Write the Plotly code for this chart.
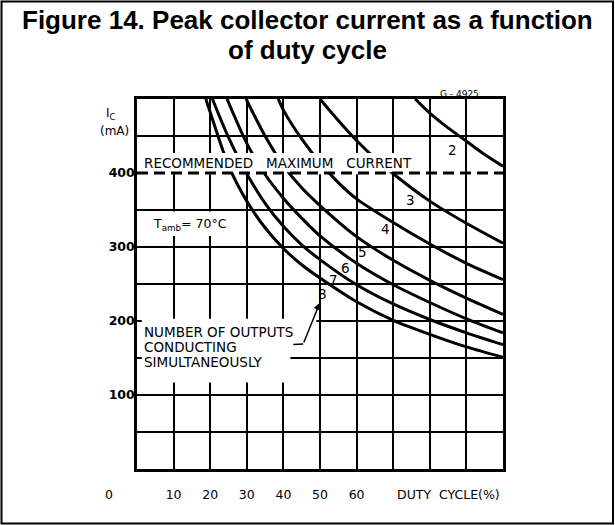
import plotly.graph_objects as go

# ---------------- data ----------------
TITLE_LINE_1 = "Figure 14. Peak collector current as a function"
TITLE_LINE_2 = "of duty cycle"

# number of outputs conducting simultaneously -> (duty cycle %, peak Ic mA)
curve_labels = ["2", "3", "4", "5", "6", "7", "8"]

duty_2 = [76, 80, 85, 90, 95, 100]
ic_2 = [500, 481, 461, 443, 425, 409]

duty_3 = [50, 55, 60, 65, 70, 80, 90, 100]
ic_3 = [500, 471, 444, 420, 399, 362, 332, 305]

duty_4 = [38.6, 40, 45, 50, 55, 60, 70, 80, 90, 100]
ic_4 = [500, 485, 446, 414, 387, 365, 333, 304, 278, 256]

duty_5 = [29.8, 35, 40, 45, 50, 60, 70, 80, 90, 100]
ic_5 = [500, 450, 410, 380, 356, 314, 282, 255, 231, 209]

duty_6 = [24.6, 30, 35, 40, 45, 50, 60, 70, 80, 90, 100]
ic_6 = [500, 440, 398, 366, 339, 315, 278, 249, 225, 203, 184]

duty_7 = [20.6, 25, 30, 35, 40, 45, 50, 60, 70, 80, 90, 100]
ic_7 = [500, 448, 399, 359, 328, 303, 283, 249, 223, 202, 184, 168]

duty_8 = [18.8, 20, 25, 30, 35, 40, 45, 50, 60, 70, 80, 90, 100]
ic_8 = [500, 482, 410, 362, 326, 298, 276, 258, 226, 201, 182, 165, 151]

curve_duties = [duty_2, duty_3, duty_4, duty_5, duty_6, duty_7, duty_8]
curve_currents = [ic_2, ic_3, ic_4, ic_5, ic_6, ic_7, ic_8]

RECOMMENDED_MAX_MA = 400

x_grid_values = [0, 10, 20, 30, 40, 50, 60, 70, 80, 90, 100]
x_tick_labels = ["", "10", "20", "30", "40", "50", "60", "", "", "", ""]
y_grid_values = [0, 50, 100, 150, 200, 250, 300, 350, 400, 450, 500]
y_tick_labels = ["", "", "100", "", "200", "", "300", "", "400", "", ""]

# label positions for curve numbers (duty %, mA)
label_positions = [(86.3, 431), (74.6, 364), (67.8, 325), (61.7, 293),
                   (57.0, 272), (53.7, 256), (50.7, 236)]

# ---------------- figure ----------------
FONT = "DejaVu Sans"
L, T, PW, PH = 137, 99, 366, 370   # plot area geometry in px


def px_x(px):
    return (px - L) / PW


def px_y(py):
    return (T + PH - py) / PH


fig = go.Figure()

for duty, ic in zip(curve_duties, curve_currents):
    fig.add_trace(go.Scatter(
        x=duty, y=ic, mode="lines",
        line=dict(color="black", width=3, shape="spline", smoothing=0.8),
        hoverinfo="skip", showlegend=False))

shapes = []
# hide the solid 400 gridline (replaced by dashed limit line)
shapes.append(dict(type="rect", xref="x", yref="y", x0=0.5, x1=99.5,
                   y0=RECOMMENDED_MAX_MA - 1.6, y1=RECOMMENDED_MAX_MA + 1.6,
                   fillcolor="white", line=dict(width=0), layer="between"))
# white band behind "RECOMMENDED MAXIMUM CURRENT"
shapes.append(dict(type="rect", xref="x", yref="y", x0=0.5, x1=76,
                   y0=RECOMMENDED_MAX_MA + 1, y1=427,
                   fillcolor="white", line=dict(width=0), layer="above"))
# dashed recommended maximum line
shapes.append(dict(type="line", xref="x", yref="y", x0=0, x1=100,
                   y0=RECOMMENDED_MAX_MA, y1=RECOMMENDED_MAX_MA,
                   line=dict(color="black", width=3, dash="11px,6px"),
                   layer="above"))
# white box behind Tamb text
shapes.append(dict(type="rect", xref="x", yref="y", x0=3.3, x1=25,
                   y0=315, y1=348, fillcolor="white", line=dict(width=0),
                   layer="between"))
# white boxes behind "NUMBER OF OUTPUTS ..." text
shapes.append(dict(type="rect", xref="x", yref="y", x0=1.3, x1=49.0,
                   y0=158, y1=203, fillcolor="white", line=dict(width=0),
                   layer="between"))
shapes.append(dict(type="rect", xref="x", yref="y", x0=1.3, x1=41.9,
                   y0=117, y1=158.5, fillcolor="white", line=dict(width=0),
                   layer="between"))
# leader tail
shapes.append(dict(type="line", xref="x", yref="y", x0=42.7, x1=45.4,
                   y0=168.3, y1=168.9, line=dict(color="black", width=1.5),
                   layer="above"))
# outer border of the figure
shapes.append(dict(type="rect", xref="paper", yref="paper",
                   x0=px_x(1.5), x1=px_x(613), y0=px_y(523.5), y1=px_y(1.5),
                   line=dict(color="black", width=2), fillcolor="rgba(0,0,0,0)",
                   layer="above"))

ann = []
title_font = dict(family="Liberation Sans, Arial", size=26, color="black")
ann.append(dict(text="<b>" + TITLE_LINE_1 + "</b>", xref="paper", yref="paper",
                x=px_x(307.5), y=px_y(20), showarrow=False,
                xanchor="center", yanchor="middle", font=title_font))
ann.append(dict(text="<b>" + TITLE_LINE_2 + "</b>", xref="paper", yref="paper",
                x=px_x(307.5), y=px_y(50), showarrow=False,
                xanchor="center", yanchor="middle", font=title_font))

txt_font = dict(family=FONT, size=13.5, color="black")
ann.append(dict(text="RECOMMENDED   MAXIMUM   CURRENT", x=1.4, y=413.5,
                xref="x", yref="y", showarrow=False, xanchor="left",
                yanchor="middle", font=txt_font))
ann.append(dict(text="T<sub>amb</sub>= 70°C", x=3.8, y=331, xref="x", yref="y",
                showarrow=False, xanchor="left", yanchor="middle",
                font=dict(family=FONT, size=12.5, color="black")))
for line_text, yv in [("NUMBER OF OUTPUTS", 185.5), ("CONDUCTING", 165.3),
                      ("SIMULTANEOUSLY", 145)]:
    ann.append(dict(text=line_text, x=1.4, y=yv, xref="x", yref="y",
                    showarrow=False, xanchor="left", yanchor="middle",
                    font=txt_font))
for lab, (lx, ly) in zip(curve_labels, label_positions):
    ann.append(dict(text=lab, x=lx, y=ly, xref="x", yref="y", showarrow=False,
                    xanchor="center", yanchor="middle", font=txt_font))
# leader arrow to curve 8
ann.append(dict(text="", x=50.0, y=225, ax=45.4, ay=168.9, axref="x", ayref="y",
                xref="x", yref="y", showarrow=True, arrowhead=2, arrowsize=1,
                arrowwidth=1.5, arrowcolor="black"))
# axis captions (paper coordinates, outside the plot area)
small = dict(family=FONT, size=12, color="black")
ann.append(dict(text="I<sub>C</sub>", x=px_x(111), y=px_y(114),
                xref="paper", yref="paper", showarrow=False,
                xanchor="center", yanchor="middle", font=small))
ann.append(dict(text="(mA)", x=px_x(114.5), y=px_y(131),
                xref="paper", yref="paper", showarrow=False,
                xanchor="center", yanchor="middle", font=small))
ann.append(dict(text="0", x=px_x(109), y=px_y(494.5),
                xref="paper", yref="paper", showarrow=False,
                xanchor="center", yanchor="middle",
                font=dict(family=FONT, size=12.5, color="black")))
ann.append(dict(text="DUTY  CYCLE(%)", x=px_x(448), y=px_y(494.5),
                xref="paper", yref="paper", showarrow=False,
                xanchor="center", yanchor="middle",
                font=dict(family=FONT, size=12.5, color="black")))
ann.append(dict(text="G - 4925", x=px_x(459), y=px_y(93.5),
                xref="paper", yref="paper", showarrow=False,
                xanchor="center", yanchor="middle",
                font=dict(family=FONT, size=9, color="black")))

fig.update_layout(
    width=615, height=525,
    margin=dict(l=L, r=615 - L - PW, t=T, b=525 - T - PH),
    paper_bgcolor="white", plot_bgcolor="white",
    showlegend=False,
    shapes=shapes, annotations=ann,
    xaxis=dict(range=[0, 100], tickmode="array", tickvals=x_grid_values,
               ticktext=x_tick_labels, showgrid=True, gridcolor="black",
               gridwidth=1.5, showline=True, linecolor="black", linewidth=2.5,
               mirror=True, zeroline=False, ticks="", ticklabelstandoff=12,
               tickfont=dict(family=FONT, size=12.5, color="black"),
               fixedrange=True),
    yaxis=dict(range=[0, 500], tickmode="array", tickvals=y_grid_values,
               ticktext=y_tick_labels, showgrid=True, gridcolor="black",
               gridwidth=1.5, showline=True, linecolor="black", linewidth=2.5,
               mirror=True, zeroline=False, ticks="", ticklabelstandoff=-3,
               tickfont=dict(family=FONT, size=12.5, color="black", weight="bold"),
               fixedrange=True),
)

fig.write_html("out.html",
               config={"displayModeBar": False},
               post_script="document.body.style.margin='0';"
                           "document.body.style.overflow='hidden';")
